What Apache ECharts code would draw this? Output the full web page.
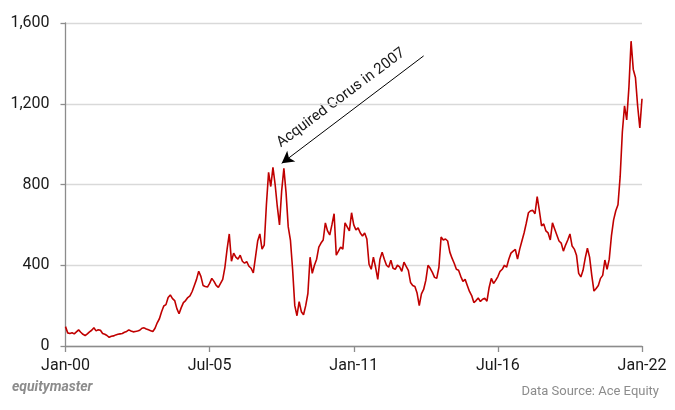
<!DOCTYPE html>
<html>
<head>
<meta charset="utf-8">
<script src="https://cdn.jsdelivr.net/npm/echarts@6/dist/echarts.min.js"></script>
<style>
html,body{margin:0;padding:0;background:#fff;}
#c{width:675px;height:410px;}
</style>
</head>
<body>
<div id="c"></div>
<script>
// Monthly categories Jan-2000 .. Jan-2022
const monthNames = ['Jan','Feb','Mar','Apr','May','Jun','Jul','Aug','Sep','Oct','Nov','Dec'];
const startYear = 2000;
const monthCount = 265;
const categories = [];
for (let i = 0; i < monthCount; i++) {
  const y = startYear + Math.floor(i / 12);
  categories.push(monthNames[i % 12] + '-' + String(y % 100).padStart(2, '0'));
}
const xTickLabels = ['Jan-00','Jul-05','Jan-11','Jul-16','Jan-22'];
const yTicks = [0, 400, 800, 1200, 1600];

// Share price (Rs), one value per month
const prices2000_2004 = [
  96,65,62,66,60,70,80,68,58,52,60,70,
  78,90,75,80,78,62,58,52,43,48,50,55,
  58,60,62,68,72,80,74,70,72,74,78,88,
  90,84,80,76,72,88,115,135,170,198,205,240,
  253,235,225,185,160,190,215,225,240,248,270,300
];
const prices2005_2009 = [
  330,370,345,300,295,292,310,335,320,300,290,310,
  330,390,480,555,420,460,440,430,450,420,410,418,
  395,385,362,440,520,555,480,500,700,860,790,885,
  800,690,600,770,880,760,590,525,380,200,150,220,
  170,155,200,260,440,360,400,430,490,510,525,610
];
const prices2010_2014 = [
  570,550,600,655,450,470,490,480,610,590,570,660,
  600,575,585,560,545,560,530,405,380,440,390,330,
  430,465,430,400,390,425,385,380,400,392,370,415,
  395,375,315,300,295,262,200,258,280,325,400,385,
  365,340,335,390,540,525,530,520,465,435,410,380
];
const prices2015_2019 = [
  375,345,320,330,300,270,250,215,225,238,220,232,
  236,222,290,335,310,325,344,370,380,400,390,430,
  460,470,478,430,480,520,560,608,660,670,672,655,
  740,670,595,605,570,560,525,610,580,550,520,510,
  470,500,525,555,495,480,450,360,342,375,435,484
];
const prices2020_2022 = [
  440,350,272,285,300,335,350,426,380,430,545,625,
  670,700,840,1060,1190,1120,1280,1510,1370,1330,1190,1080,
  1225
];
const prices = [].concat(prices2000_2004, prices2005_2009, prices2010_2014, prices2015_2019, prices2020_2022);

// annotation
const annotationText = 'Acquired Corus in 2007';
const arrowFrom = { month: 164, value: 1437 };
const arrowTo = { month: 99, value: 905 };

const chart = echarts.init(document.getElementById('c'), null, { renderer: 'canvas' });
const FONT = 'Roboto, "Noto Sans", sans-serif';
chart.setOption({
  animation: false,
  backgroundColor: '#ffffff',
  grid: { left: 65.5, right: 33, top: 23, bottom: 64, containLabel: false },
  xAxis: {
    type: 'category',
    data: categories,
    boundaryGap: false,
    axisLine: { lineStyle: { color: '#8c8c8c', width: 1.3 } },
    axisTick: {
      show: true, length: 6, lineStyle: { color: '#8c8c8c', width: 1.3 },
      interval: function (idx, val) { return xTickLabels.indexOf(val) >= 0; }
    },
    axisLabel: {
      interval: function (idx, val) { return xTickLabels.indexOf(val) >= 0; },
      color: '#1a1a1a', fontSize: 16, fontFamily: FONT, margin: 12
    },
    splitLine: { show: false }
  },
  yAxis: {
    type: 'value',
    min: 0, max: 1600, interval: 400,
    axisLine: { show: true, lineStyle: { color: '#8c8c8c', width: 1.3 } },
    axisTick: { show: true, length: 5, lineStyle: { color: '#8c8c8c', width: 1.3 } },
    axisLabel: {
      color: '#1a1a1a', fontSize: 16, fontFamily: FONT, margin: 16,
      formatter: function (v) { return yTicks.indexOf(v) >= 0 ? v.toLocaleString('en-US') : ''; }
    },
    splitLine: { show: true, lineStyle: { color: '#d9d9d9', width: 1.3 } }
  },
  series: [{
    type: 'line',
    data: prices,
    showSymbol: false,
    symbol: 'none',
    lineStyle: { color: '#c00000', width: 1.6 },
    markLine: {
      silent: true,
      symbol: ['none', 'arrow'],
      symbolSize: [10, 12],
      lineStyle: { color: '#000', width: 1, type: 'solid' },
      label: { show: false },
      data: [[
        { coord: [arrowFrom.month, arrowFrom.value] },
        { coord: [arrowTo.month, arrowTo.value] }
      ]]
    }
  }],
  graphic: [
    {
      type: 'text', x: 341, y: 98, rotation: 0.64,
      style: { text: annotationText, font: '15px ' + FONT, fill: '#1a1a1a', align: 'center', verticalAlign: 'middle' }
    },
    {
      type: 'text', left: 12, top: 380,
      style: { text: 'equitymaster', font: 'italic bold 14px ' + FONT, fill: '#8c8c8c' }
    },
    {
      type: 'text', right: 16, top: 385,
      style: { text: 'Data Source: Ace Equity', font: '13px ' + FONT, fill: '#8c8c8c' }
    }
  ]
});
</script>
</body>
</html>
